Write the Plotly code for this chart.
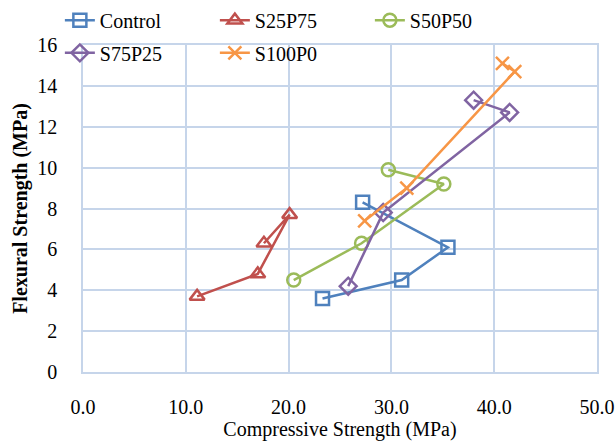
import plotly.graph_objects as go

control_x = [23.3, 31.0, 35.5, 27.2]
control_y = [3.6, 4.5, 6.1, 8.3]
s25_x = [11.1, 17.0, 20.1, 17.6]
s25_y = [3.7, 4.8, 7.7, 6.3]
s50_x = [20.5, 27.1, 35.1, 29.7]
s50_y = [4.5, 6.3, 9.2, 9.9]
s75_x = [25.8, 29.2, 41.5, 38.0]
s75_y = [4.2, 7.8, 12.7, 13.3]
s100_x = [27.4, 31.5, 42.0, 40.8]
s100_y = [7.4, 9.0, 14.7, 15.1]

names = ["Control", "S25P75", "S50P50", "S75P25", "S100P0"]
colors = ["#4F81BD", "#C0504D", "#9BBB59", "#8064A2", "#F79646"]
symbols = ["square-open", "triangle-up-open", "circle-open", "diamond-open", "x-thin-open"]
xs = [control_x, s25_x, s50_x, s75_x, s100_x]
ys = [control_y, s25_y, s50_y, s75_y, s100_y]
legends = ["legend", "legend", "legend", "legend2", "legend2"]

fig = go.Figure()
for n, c, s, x, y, lg in zip(names, colors, symbols, xs, ys, legends):
    fig.add_trace(go.Scatter(
        x=x, y=y, name=n, mode="lines+markers",
        line=dict(color=c, width=2.5),
        marker=dict(symbol=s, size=13, color=c, line=dict(color=c, width=2.5)),
        legend=lg,
    ))

font_family = "Liberation Serif"
grid = "#C6D5EA"
fig.update_layout(
    width=615, height=444,
    margin=dict(l=83, r=18, t=45, b=72, autoexpand=False),
    paper_bgcolor="white", plot_bgcolor="white",
    font=dict(family=font_family, size=20, color="black"),
    showlegend=True,
    legend=dict(orientation="h", x=-0.045, y=1.076, xanchor="left", yanchor="middle",
                entrywidth=110, bgcolor="rgba(0,0,0,0)", font=dict(size=20, family=font_family)),
    legend2=dict(orientation="h", x=-0.045, y=0.976, xanchor="left", yanchor="middle",
                 entrywidth=110, bgcolor="rgba(0,0,0,0)", font=dict(size=20, family=font_family)),
    xaxis=dict(range=[0, 50], dtick=10, tick0=0, tickformat=".1f",
               showgrid=True, gridcolor=grid, gridwidth=1.5,
               showline=True, linecolor=grid, linewidth=1.5, mirror=True,
               zeroline=False, ticks="", ticklabelstandoff=16,
               title=dict(text="Compressive Strength (MPa)", standoff=2,
                          font=dict(size=20, family=font_family)),
               tickfont=dict(size=20, family=font_family)),
    yaxis=dict(range=[0, 16], dtick=2, tick0=0,
               showgrid=True, gridcolor=grid, gridwidth=1.5,
               showline=True, linecolor=grid, linewidth=1.5, mirror=True,
               zeroline=False, ticks="", ticklabelstandoff=20,
               title=dict(text="<b>Flexural Strength (MPa)</b>", standoff=4,
                          font=dict(size=20, family=font_family)),
               tickfont=dict(size=20, family=font_family)),
)

fig.write_html("out.html")
